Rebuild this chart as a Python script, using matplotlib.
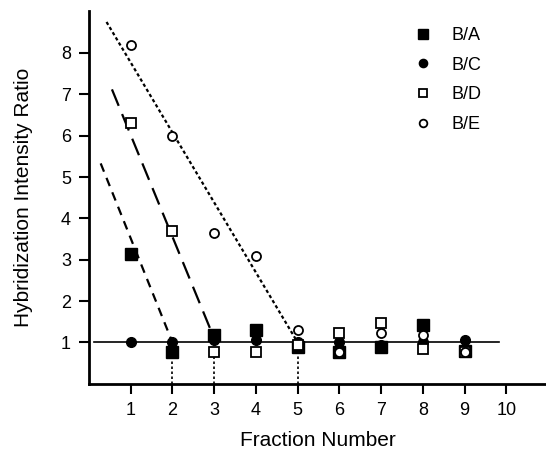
import numpy as np
import matplotlib.pyplot as plt

plt.rcParams['font.family'] = ['Liberation Sans', 'DejaVu Sans']

fraction = [1, 2, 3, 4, 5, 6, 7, 8, 9]
b_a = [3.15, 0.76, 1.17, 1.29, 0.88, 0.78, 0.88, 1.43, 0.80]
b_c = [1.0, 1.0, 1.05, 1.05, 1.0, 1.02, 0.95, 1.0, 1.05]
b_d = [6.3, 3.7, 0.78, 0.78, 0.95, 1.23, 1.48, 0.85, 0.78]
b_e = [8.2, 6.0, 3.65, 3.1, 1.3, 0.78, 1.22, 1.18, 0.78]

# fitted lines (start, end)
fit_a_x = [0.28, 2.0]
fit_a_y = [5.33, 1.0]
fit_d_x = [0.55, 2.97]
fit_d_y = [7.12, 1.17]
fit_e_x = [0.42, 5.0]
fit_e_y = [8.75, 1.0]

baseline_x = [0.12, 9.83]
drop_x = [2, 3, 5]
drop_top = [0.76, 0.78, 1.0]

fig = plt.figure(figsize=(5.46, 4.5), dpi=100)
ax = fig.add_axes([0.163, 0.147, 0.837, 0.829])

ax.plot(baseline_x, [1, 1], color='black', lw=1.2, zorder=1)
for x, top in zip(drop_x, drop_top):
    ax.plot([x, x], [0, top], color='black', lw=1.2, ls=(0, (1.5, 1.5)), zorder=1)

ax.plot(fit_a_x, fit_a_y, color='black', lw=1.6, ls=(0, (4, 3)), zorder=1)
ax.plot(fit_d_x, fit_d_y, color='black', lw=1.6, ls=(0, (8, 4)), zorder=1)
ax.plot(fit_e_x, fit_e_y, color='black', lw=1.6, ls=(0, (1.5, 1.2)), zorder=1)

ax.plot(fraction, b_a, 's', color='black', ms=8, ls='none', label='B/A', zorder=3)
ax.plot(fraction, b_c, 'o', color='black', ms=7, ls='none', label='B/C', zorder=3)
ax.plot(fraction, b_d, 's', mfc='white', mec='black', mew=1.3, ms=7.5, ls='none', label='B/D', zorder=4)
ax.plot(fraction, b_e, 'o', mfc='white', mec='black', mew=1.3, ms=6.5, ls='none', label='B/E', zorder=5)

ax.set_xlim(0, 10.95)
ax.set_ylim(0, 9.02)
ax.set_xticks(range(1, 11))
ax.set_yticks(range(1, 9))
ax.spines['top'].set_visible(False)
ax.spines['right'].set_visible(False)
ax.spines['left'].set_linewidth(2)
ax.spines['bottom'].set_linewidth(2)
ax.tick_params(direction='out', length=7, width=1.5, labelsize=13)
ax.tick_params(axis='x', pad=6)
ax.tick_params(axis='y', pad=6)

ax.set_xlabel('Fraction Number', fontsize=15, labelpad=9)
ax.set_ylabel('Hybridization Intensity Ratio', fontsize=15, labelpad=20)

ax.legend(loc='upper right', bbox_to_anchor=(0.895, 1.0), frameon=False, fontsize=13,
          labelspacing=0.7, handletextpad=0.6, markerscale=0.85)

fig.savefig('out.png', dpi=100)
